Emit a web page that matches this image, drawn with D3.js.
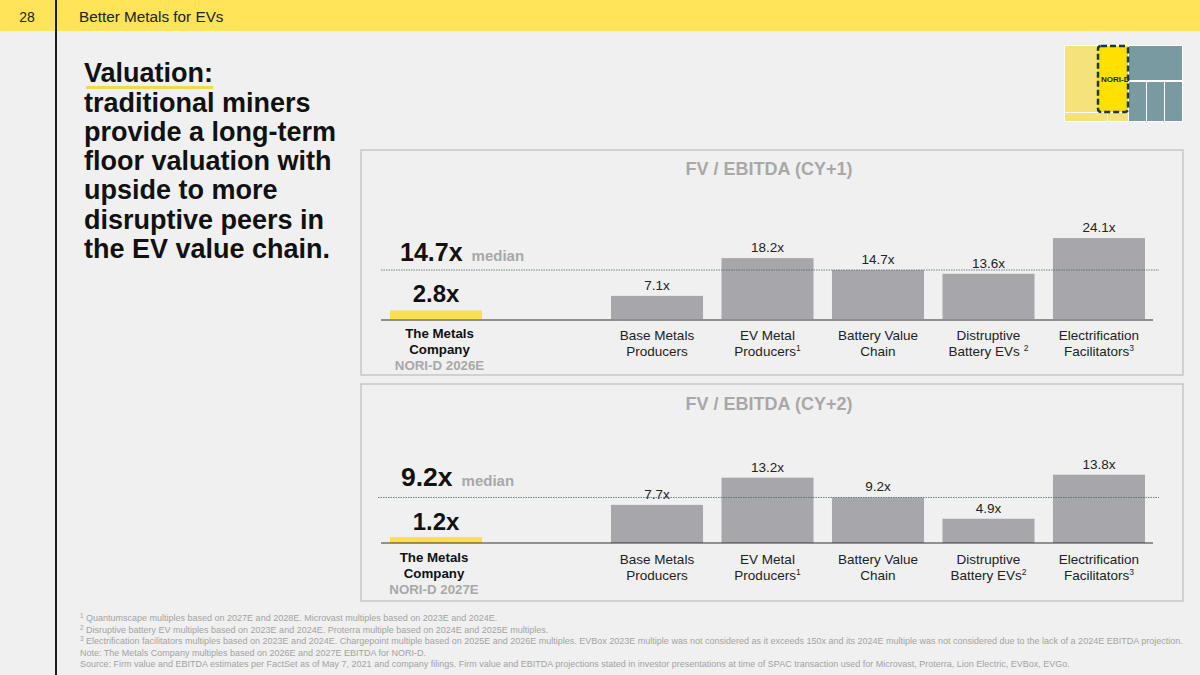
<!DOCTYPE html>
<html><head><meta charset="utf-8">
<script src="https://cdn.jsdelivr.net/npm/d3@7"></script>
<style>
html,body{margin:0;padding:0;background:#f0f0f0;}
svg{display:block;font-family:"Liberation Sans",Arial,sans-serif;}
</style></head>
<body>
<svg id="c" width="1200" height="675"></svg>
<script>
// ---------- data ----------
const categories = ["Base Metals Producers","EV Metal Producers","Battery Value Chain","Distruptive Battery EVs","Electrification Facilitators"];
const catLines1 = [["Base Metals","Producers"],["EV Metal","Producers","1"],["Battery Value","Chain"],["Distruptive","Battery EVs ","2"],["Electrification","Facilitators","3"]];
const catLines2 = [["Base Metals","Producers"],["EV Metal","Producers","1"],["Battery Value","Chain"],["Distruptive","Battery EVs","2"],["Electrification","Facilitators","3"]];
const cy1Values = [7.1, 18.2, 14.7, 13.6, 24.1];
const cy2Values = [7.7, 13.2, 9.2, 4.9, 13.8];
const tmcValues = [2.8, 1.2];
const medians = [14.7, 9.2];
const panelTitles = ["FV / EBITDA (CY+1)", "FV / EBITDA (CY+2)"];
const tmcSub = ["NORI-D 2026E", "NORI-D 2027E"];
const headline = ["traditional miners","provide a long-term","floor valuation with","upside to more","disruptive peers in","the EV value chain."];
const footnotes = [
 ["1"," Quantumscape multiples based on 2027E and 2028E. Microvast multiples based on 2023E and 2024E."],
 ["2"," Disruptive battery EV multiples based on 2023E and 2024E. Proterra multiple based on 2024E and 2025E multiples."],
 ["3"," Electrification facilitators multiples based on 2023E and 2024E. Chargepoint multiple based on 2025E and 2026E multiples. EVBox 2023E multiple was not considered as it exceeds 150x and its 2024E multiple was not considered due to the lack of a 2024E EBITDA projection."],
 [null,"Note: The Metals Company multiples based on 2026E and 2027E EBITDA for NORI-D."],
 [null,"Source: Firm value and EBITDA estimates per FactSet as of May 7, 2021 and company filings. Firm value and EBITDA projections stated in investor presentations at time of SPAC transaction used for Microvast, Proterra, Lion Electric, EVBox, EVGo."]
];

const svg = d3.select("#c");

// background
svg.append("rect").attr("width",1200).attr("height",675).attr("fill","#f0f0f0");
// header
svg.append("rect").attr("width",1200).attr("height",31).attr("fill","#ffe358");
svg.append("line").attr("x1",56).attr("x2",56).attr("y1",0).attr("y2",675).attr("stroke","#1a1a1a").attr("stroke-width",2);
svg.append("text").attr("x",27).attr("y",21.5).attr("text-anchor","middle").attr("font-size",14).attr("fill","#222").text("28");
svg.append("text").attr("x",79).attr("y",22).attr("font-size",15.3).attr("fill","#222").text("Better Metals for EVs");

// headline
svg.append("text").attr("x",84).attr("y",82).attr("font-size",27).attr("font-weight","bold").attr("fill","#111").text("Valuation:");
svg.append("rect").attr("x",86).attr("y",86).attr("width",127).attr("height",3).attr("fill","#f5d84a");
headline.forEach((t,i)=>{
  svg.append("text").attr("x",84).attr("y",111.5+i*29.3).attr("font-size",27).attr("font-weight","bold").attr("fill","#111").text(t);
});

// icon top-right
const ic = svg.append("g");
ic.append("rect").attr("x",1064).attr("y",45).attr("width",119).attr("height",77).attr("fill","#ffffff");
ic.append("rect").attr("x",1065).attr("y",46).attr("width",33).attr("height",66).attr("fill","#f6e27a");
ic.append("rect").attr("x",1065).attr("y",113).attr("width",42).attr("height",8).attr("fill","#f6e27a");
ic.append("rect").attr("x",1108).attr("y",113).attr("width",20).attr("height",8).attr("fill","#f6e27a");
ic.append("rect").attr("x",1098).attr("y",46).attr("width",30).attr("height",66).attr("fill","#ffe000");
ic.append("rect").attr("x",1129).attr("y",46).attr("width",53).attr("height",34).attr("fill","#7a9aa2");
[[1129,17],[1147,17],[1165,17]].forEach(([x,w])=>ic.append("rect").attr("x",x).attr("y",82).attr("width",w).attr("height",39).attr("fill","#7a9aa2"));
ic.append("rect").attr("x",1098).attr("y",46).attr("width",30).attr("height",66).attr("rx",3).attr("fill","none")
  .attr("stroke","#173a3c").attr("stroke-width",2.5).attr("stroke-dasharray","6,3");
ic.append("text").attr("x",1101).attr("y",82).attr("font-size",8).attr("font-weight","bold").attr("fill","#1a2a2a").text("NORI-D");

// panels
const slots = ["TMC","gap"].concat(categories);
const x = d3.scaleBand().domain(slots).range([390,1145]).paddingInner(0.167).paddingOuter(0);

const panels = [
  {top:150,bottom:375,titleY:175,base:320,y:d3.scaleLinear().domain([0,30]).range([320,218]),vals:cy1Values,lines:catLines1,
   baseStroke:"#8f8f8f",baseW:2,medX1:381,medianY:261,medianX:400,medSize:25,medWordSize:15,tmcY:302,catY:340,tmcShift:3.5},
  {top:384,bottom:601,titleY:410,base:543,y:d3.scaleLinear().domain([0,20]).range([543,444]),vals:cy2Values,lines:catLines2,
   baseStroke:"#333",baseW:1.2,medX1:378,medianY:486,medianX:401,medSize:26.5,medWordSize:15,tmcY:530,catY:564,tmcShift:-2}
];

panels.forEach((p,pi)=>{
  const g = svg.append("g");
  g.append("rect").attr("x",361).attr("y",p.top).attr("width",822).attr("height",p.bottom-p.top)
    .attr("fill","none").attr("stroke","#c6c6c6").attr("stroke-width",1.5);
  g.append("text").attr("x",769).attr("y",p.titleY).attr("text-anchor","middle").attr("font-size",18)
    .attr("font-weight","bold").attr("fill","#a8a8a8").text(panelTitles[pi]);

  // bars
  const data = categories.map((c,i)=>({c,v:p.vals[i],lines:p.lines[i]}));
  g.selectAll(".bar").data(data).enter().append("rect")
    .attr("x",d=>x(d.c)).attr("width",x.bandwidth())
    .attr("y",d=>p.y(d.v)).attr("height",d=>p.y(0)-p.y(d.v)).attr("fill","#a7a7ab");
  g.selectAll(".val").data(data).enter().append("text")
    .attr("x",d=>x(d.c)+x.bandwidth()/2).attr("y",d=>p.y(d.v)-6)
    .attr("text-anchor","middle").attr("font-size",13.5).attr("fill","#222").text(d=>d.v.toFixed(1)+"x");

  // TMC bar
  g.append("rect").attr("x",x("TMC")).attr("width",x.bandwidth())
    .attr("y",p.y(tmcValues[pi])).attr("height",p.y(0)-p.y(tmcValues[pi])).attr("fill","#fbe04c");

  // baseline
  g.append("line").attr("x1",381).attr("x2",1153).attr("y1",p.base).attr("y2",p.base)
    .attr("stroke",p.baseStroke).attr("stroke-width",p.baseW);

  // median line
  const my = p.y(medians[pi]);
  g.append("line").attr("x1",p.medX1).attr("x2",1159).attr("y1",my).attr("y2",my)
    .attr("stroke","#4d6468").attr("stroke-width",0.8).attr("stroke-dasharray","1.5,1");

  // median label
  const mt = g.append("text").attr("x",p.medianX).attr("y",p.medianY).attr("font-weight","bold");
  mt.append("tspan").attr("font-size",p.medSize).attr("fill","#111").text(medians[pi].toFixed(1)+"x");
  mt.append("tspan").attr("font-size",p.medWordSize).attr("fill","#a8a8a8").attr("dx",9).text("median");

  // TMC value
  const cx = x("TMC")+x.bandwidth()/2;
  g.append("text").attr("x",cx).attr("y",p.tmcY).attr("text-anchor","middle").attr("font-size",24)
    .attr("font-weight","bold").attr("fill","#111").text(tmcValues[pi].toFixed(1)+"x");

  // TMC label
  const lx = cx + p.tmcShift;
  g.append("text").attr("x",lx).attr("y",p.catY-2).attr("text-anchor","middle").attr("font-size",13.3).attr("font-weight","bold").attr("fill","#111").text("The Metals");
  g.append("text").attr("x",lx).attr("y",p.catY+14).attr("text-anchor","middle").attr("font-size",13.3).attr("font-weight","bold").attr("fill","#111").text("Company");
  g.append("text").attr("x",lx).attr("y",p.catY+30).attr("text-anchor","middle").attr("font-size",13.3).attr("font-weight","bold").attr("fill","#a8a8a8").text(tmcSub[pi]);

  // category labels
  data.forEach(d=>{
    const cxx = x(d.c)+x.bandwidth()/2;
    g.append("text").attr("x",cxx).attr("y",p.catY).attr("text-anchor","middle").attr("font-size",13.5).attr("fill","#222").text(d.lines[0]);
    const t2 = g.append("text").attr("x",cxx).attr("y",p.catY+16).attr("text-anchor","middle").attr("font-size",13.5).attr("fill","#222");
    t2.append("tspan").text(d.lines[1]);
    if(d.lines[2]) t2.append("tspan").attr("font-size",8.5).attr("dy",-5).text(d.lines[2]);
  });
});

// footnotes
footnotes.forEach((f,i)=>{
  const t = svg.append("text").attr("x",80).attr("y",621+i*11.6).attr("font-size",9).attr("fill","#a3a3a3");
  if(f[0]){ t.append("tspan").attr("font-size",6.3).attr("dy",-3).text(f[0]); t.append("tspan").attr("dy",3).text(f[1]); }
  else t.text(f[1]);
});
</script>
</body></html>
